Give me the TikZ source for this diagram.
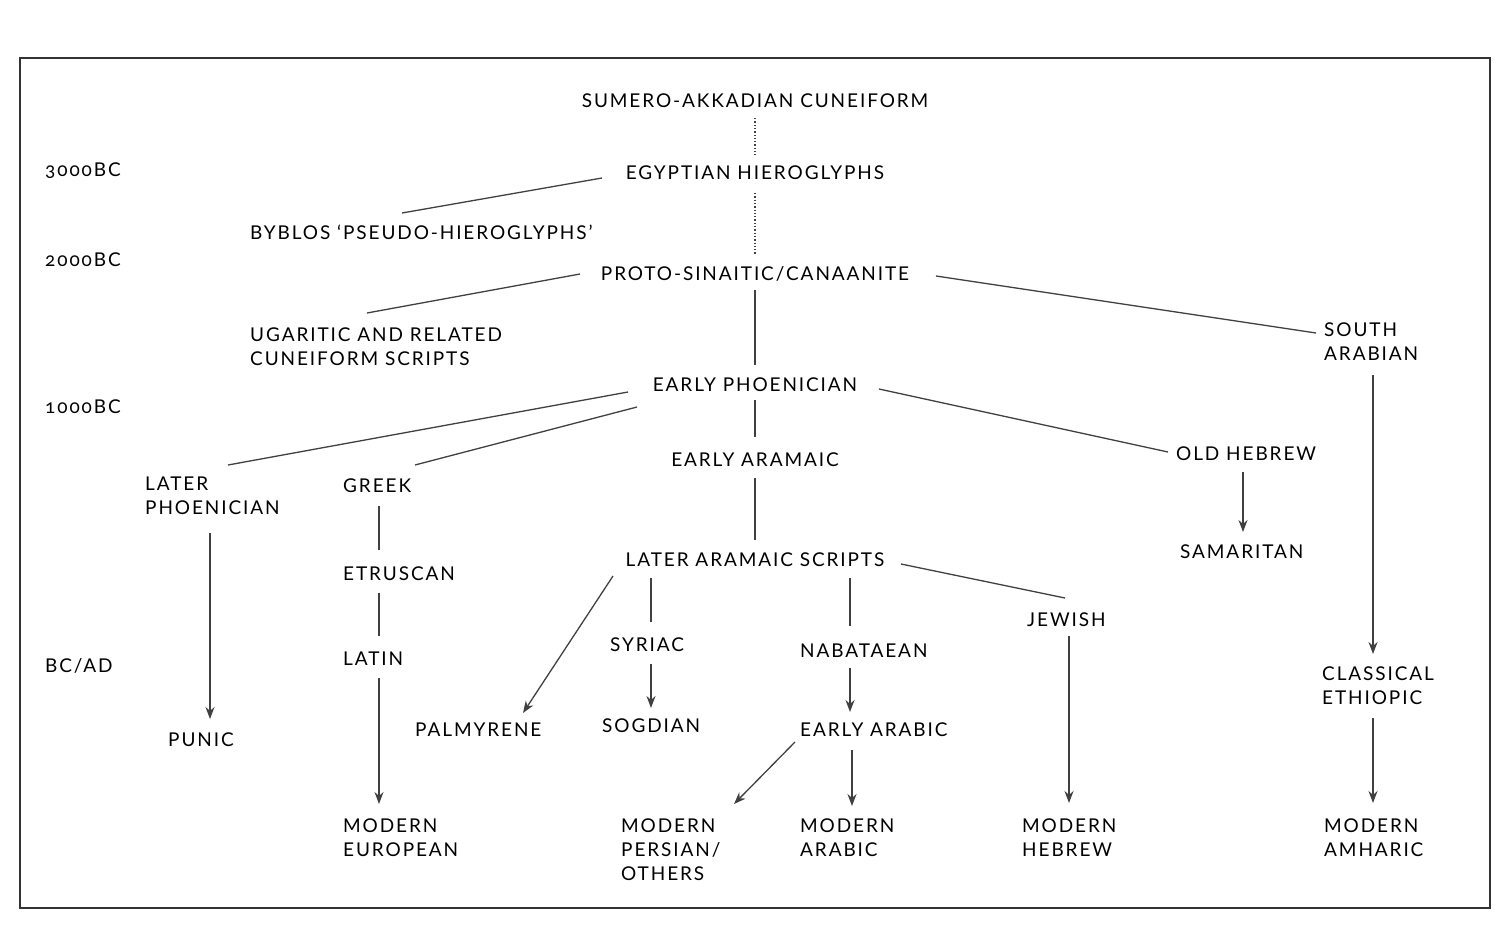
\documentclass[tikz,border=0pt]{standalone}
\usepackage{fontspec}
\setmainfont[LetterSpace=10,Numbers=OldStyle]{Lato}
\usetikzlibrary{arrows.meta}

\begin{document}
\begin{tikzpicture}[x=1pt,y=-1pt,
    lbl/.style={inner sep=0pt, font=\fontsize{19}{24}\selectfont, align=left},
    link/.style={draw=black!75, line width=1.3pt},
    arr/.style={link, -{Stealth[length=12pt,width=9pt]}}]
    \useasboundingbox (0,0) rectangle (1510,932);
    \draw[black!80, line width=1.3pt] (20,58) rectangle (1490,908);

    % dates
    \node[lbl, anchor=west] (d3) at (45,171) {3000BC};
    \node[lbl, anchor=west] (d2) at (45,260) {2000BC};
    \node[lbl, anchor=west] (d1) at (45,407) {1000BC};
    \node[lbl, anchor=west] (d0) at (45,666) {BC/AD};

    % scripts
    \node[lbl] (sumero) at (755,101) {SUMERO-AKKADIAN CUNEIFORM};
    \node[lbl] (egypt) at (755,173) {EGYPTIAN HIEROGLYPHS};
    \node[lbl, anchor=west] (byblos) at (250,232) {BYBLOS ‘PSEUDO-HIEROGLYPHS’};
    \node[lbl] (proto) at (755,274) {PROTO-SINAITIC/CANAANITE};
    \node[lbl, anchor=west] (ugarit) at (250,347) {UGARITIC AND RELATED\\CUNEIFORM SCRIPTS};
    \node[lbl, anchor=west] (sarab) at (1324,342) {SOUTH\\ARABIAN};
    \node[lbl] (ephoen) at (755,385) {EARLY PHOENICIAN};
    \node[lbl] (earam) at (755,460) {EARLY ARAMAIC};
    \node[lbl, anchor=west] (ohebrew) at (1176,454) {OLD HEBREW};
    \node[lbl, anchor=west] (lphoen) at (145,496) {LATER\\PHOENICIAN};
    \node[lbl, anchor=west] (greek) at (343,486) {GREEK};
    \node[lbl, anchor=west] (samar) at (1180,552) {SAMARITAN};
    \node[lbl, anchor=west] (etrus) at (343,574) {ETRUSCAN};
    \node[lbl] (laram) at (755,560) {LATER ARAMAIC SCRIPTS};
    \node[lbl, anchor=west] (jewish) at (1027,620) {JEWISH};
    \node[lbl, anchor=west] (syriac) at (610,645) {SYRIAC};
    \node[lbl, anchor=west] (nabat) at (800,651) {NABATAEAN};
    \node[lbl, anchor=west] (latin) at (343,659) {LATIN};
    \node[lbl, anchor=west] (ethiop) at (1322,686) {CLASSICAL\\ETHIOPIC};
    \node[lbl, anchor=west] (punic) at (168,740) {PUNIC};
    \node[lbl, anchor=west] (palmy) at (415,730) {PALMYRENE};
    \node[lbl, anchor=west] (sogd) at (602,726) {SOGDIAN};
    \node[lbl, anchor=west] (earab) at (800,730) {EARLY ARABIC};
    \node[lbl, anchor=west] (meuro) at (343,838) {MODERN\\EUROPEAN};
    \node[lbl, anchor=west] (mpers) at (621,850) {MODERN\\PERSIAN/\\OTHERS};
    \node[lbl, anchor=west] (marab) at (800,838) {MODERN\\ARABIC};
    \node[lbl, anchor=west] (mhebr) at (1022,838) {MODERN\\HEBREW};
    \node[lbl, anchor=west] (mamh) at (1324,838) {MODERN\\AMHARIC};

    % connectors
    \draw[link, dotted, line width=1.5pt] (755,118) -- (755,155);
    \draw[link, dotted, line width=1.5pt] (755,193) -- (755,255);
    \draw[link] (602,178) -- (402,213);
    \draw[link] (580,274) -- (367,313);
    \draw[link] (936,276) -- (1316,333);
    \draw[link] (755,290) -- (755,365);
    \draw[link] (628,392) -- (228,465);
    \draw[link] (637,407) -- (415,465);
    \draw[link] (755,400) -- (755,437);
    \draw[link] (879,389) -- (1168,452);
    \draw[arr] (1243,472) -- (1243,532);
    \draw[arr] (1373,375) -- (1373,654);
    \draw[link] (755,478) -- (755,540);
    \draw[arr] (210,533) -- (210,719);
    \draw[link] (379,506) -- (379,550);
    \draw[link] (379,593) -- (379,636);
    \draw[arr] (379,678) -- (379,804);
    \draw[arr] (613,576) -- (523,713);
    \draw[link] (651,578) -- (651,622);
    \draw[arr] (651,664) -- (651,708);
    \draw[link] (850,578) -- (850,626);
    \draw[arr] (850,668) -- (850,712);
    \draw[link] (901,564) -- (1065,598);
    \draw[arr] (1069,636) -- (1069,803);
    \draw[arr] (795,742) -- (734,804);
    \draw[arr] (852,750) -- (852,806);
    \draw[arr] (1373,718) -- (1373,803);
\end{tikzpicture}
\end{document}
